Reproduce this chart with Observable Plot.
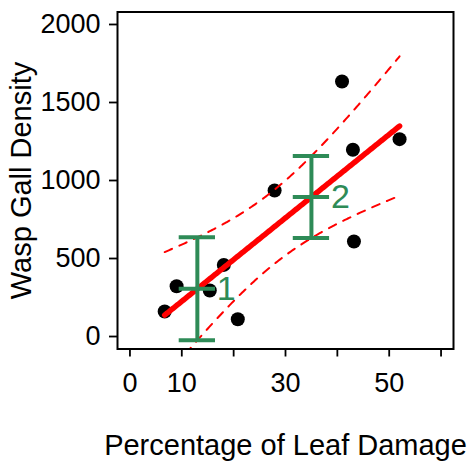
<!DOCTYPE html>
<html>
<head>
<meta charset="utf-8">
<script src="https://cdn.jsdelivr.net/npm/d3@7"></script>
<script src="https://cdn.jsdelivr.net/npm/@observablehq/plot@0.6"></script>
<style>
  html, body { margin: 0; padding: 0; background: #fff; }
  #chart svg { display: block; }
</style>
</head>
<body>
<div id="chart"></div>
<script>
// Leaf damage (%) and wasp gall density for each sampled plant
const leafDamage  = [6.7, 9.0, 15.4, 18.1, 20.8, 27.9, 40.9, 43.0, 43.2, 52.0];
const gallDensity = [160, 322, 295, 459, 111, 936, 1635, 1197, 609, 1265];

// Damage levels where the fitted mean is shown with its 95% interval
const groupDamage = [13, 35];
const groupLabels = ["1", "2"];

// Axis ticks and titles
const xTicks = [0, 10, 20, 30, 40, 50, 60];
const xTickLabels = ["0", "10", "", "30", "", "50", ""];
const yTicks = [0, 500, 1000, 1500, 2000];
const xTitle = "Percentage of Leaf Damage";
const yTitle = "Wasp Gall Density";

// Ordinary least squares fit with a 95% confidence band for the mean
const n = leafDamage.length;
const mx = d3.mean(leafDamage), my = d3.mean(gallDensity);
const sxx = d3.sum(leafDamage, x => (x - mx) ** 2);
const sxy = d3.sum(leafDamage, (x, i) => (x - mx) * (gallDensity[i] - my));
const slope = sxy / sxx;
const intercept = my - slope * mx;
const sse = d3.sum(leafDamage, (x, i) => (gallDensity[i] - intercept - slope * x) ** 2);
const se = Math.sqrt(sse / (n - 2));
const tCrit = 2.306; // Student t, 0.975 quantile, 8 degrees of freedom
const fit = x => intercept + slope * x;
const halfWidth = x => tCrit * se * Math.sqrt(1 / n + (x - mx) ** 2 / sxx);

const [xMin, xMax] = d3.extent(leafDamage);
const grid = d3.range(0, 201).map(i => xMin + (xMax - xMin) * i / 200);
const band = grid.map(x => ({x, fit: fit(x), lo: fit(x) - halfWidth(x), hi: fit(x) + halfWidth(x)}));
const points = leafDamage.map((x, i) => ({x, y: gallDensity[i]}));
const groups = groupDamage.map((x, i) => ({
  x, label: groupLabels[i], mid: fit(x), lo: fit(x) - halfWidth(x), hi: fit(x) + halfWidth(x)
}));

const capHalf = 3.5; // half-width of the interval caps, in % damage
const green = "#2e8b57";
const red = "#ff0000";
const cap = key => Plot.ruleY(groups, {
  y: key, x1: d => d.x - capHalf, x2: d => d.x + capHalf, stroke: green, strokeWidth: 4
});

const chart = Plot.plot({
  width: 470,
  height: 462,
  marginLeft: 117,
  marginRight: 17,
  marginTop: 11.5,
  marginBottom: 113.5,
  style: {fontFamily: "'Liberation Sans', Arial, Helvetica, sans-serif", fontSize: "27px", color: "#000", background: "#fff"},
  x: {domain: [-2.4, 62.4]},
  y: {domain: [-80, 2080]},
  marks: [
    Plot.axisX({ticks: xTicks, tickFormat: d => xTickLabels[xTicks.indexOf(d)], tickSize: 8, tickPadding: 16, strokeWidth: 1.8, label: null}),
    Plot.axisY({ticks: yTicks, tickFormat: d => String(d), tickSize: 8, tickPadding: 9, strokeWidth: 1.8, label: null}),
    Plot.dot(points, {x: "x", y: "y", r: 7, fill: "#000"}),
    Plot.line(band, {x: "x", y: "hi", stroke: red, strokeWidth: 2, strokeDasharray: "8,8", clip: true}),
    Plot.line(band, {x: "x", y: "lo", stroke: red, strokeWidth: 2, strokeDasharray: "8,8", clip: true}),
    Plot.line(band, {x: "x", y: "fit", stroke: red, strokeWidth: 5.5, strokeLinecap: "round"}),
    Plot.ruleX(groups, {x: "x", y1: "lo", y2: "hi", stroke: green, strokeWidth: 4}),
    cap("hi"), cap("mid"), cap("lo"),
    Plot.text(groups, {x: "x", y: "mid", text: "label", textAnchor: "start", lineAnchor: "middle", dx: 19.5, fill: green, fontSize: 34}),
    Plot.frame({stroke: "#000", strokeWidth: 2}),
    Plot.text([xTitle], {text: d => d, frameAnchor: "bottom", textAnchor: "middle", lineAnchor: "middle", dy: 96.5, fontSize: 29, fill: "#000"}),
    Plot.text([yTitle], {text: d => d, frameAnchor: "left", textAnchor: "middle", lineAnchor: "middle", rotate: -90, dx: -95.6, fontSize: 29, fill: "#000"})
  ]
});

document.getElementById("chart").appendChild(chart);
</script>
</body>
</html>
